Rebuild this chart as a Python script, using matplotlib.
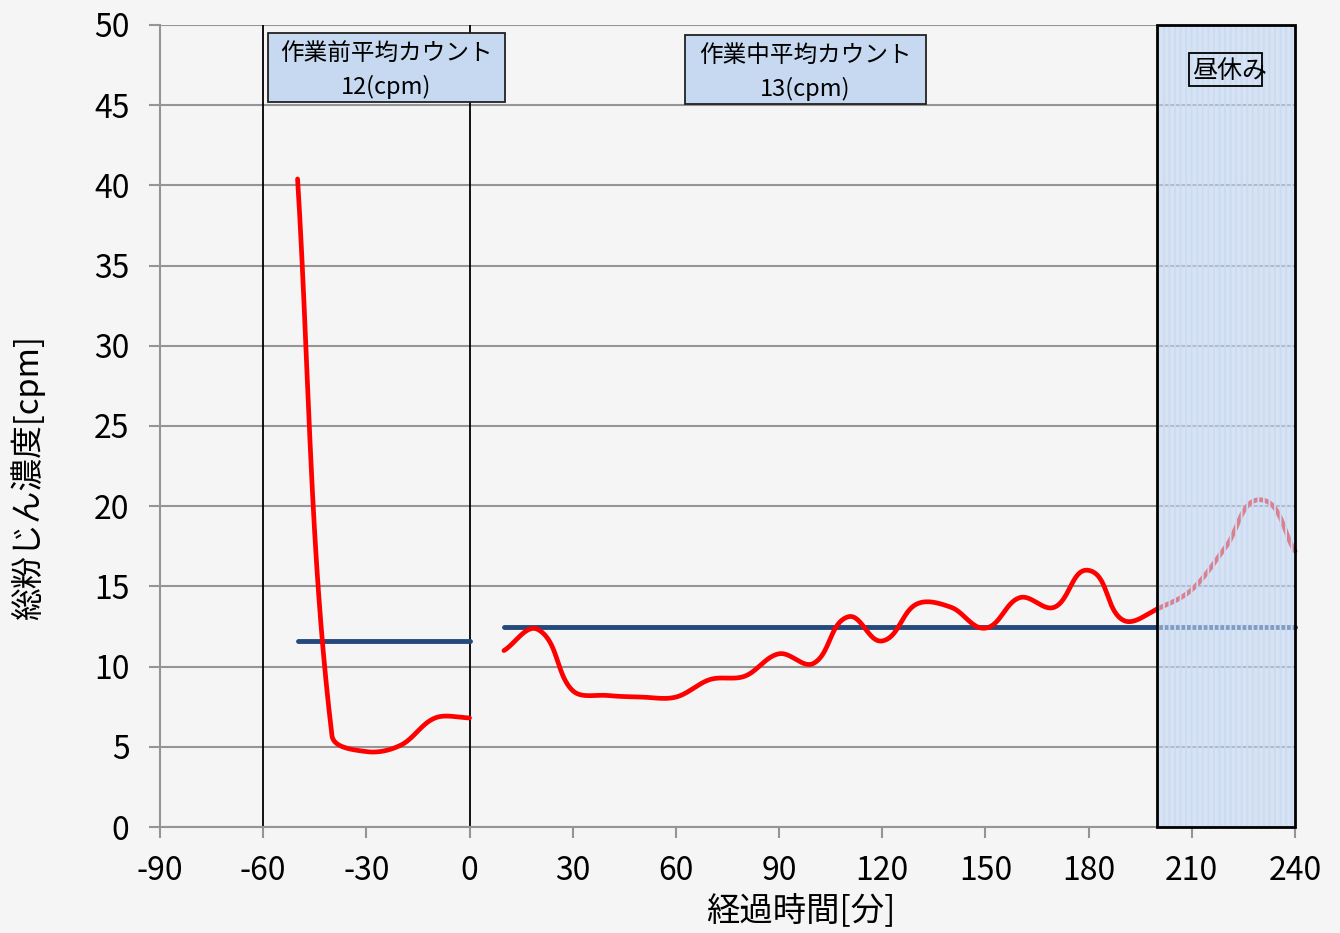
import numpy as np
import matplotlib
matplotlib.use("Agg")
import matplotlib.pyplot as plt
from matplotlib.patches import Rectangle

plt.rcParams['font.family'] = ['Noto Sans CJK JP', 'DejaVu Sans']
plt.rcParams['hatch.linewidth'] = 1.3

# ---- data ----
t_pre = [-50, -40, -30, -20, -10, 0]
c_pre = [40.4, 5.7, 4.7, 5.1, 6.8, 6.8]
t_work = [10, 20, 30, 40, 50, 60, 70, 80, 90, 100, 110, 120, 130, 140,
          150, 160, 170, 180, 190, 200, 210, 220, 230, 240]
c_work = [11.0, 12.3, 8.5, 8.2, 8.1, 8.1, 9.2, 9.4, 10.8, 10.2, 13.1, 11.6,
          13.9, 13.7, 12.4, 14.3, 13.7, 16.0, 12.9, 13.6, 14.8, 17.5, 20.4, 17.2]
mean_pre_span = [-50, 0]
mean_pre = 11.6
mean_work_span = [10, 240]
mean_work = 12.5
box_pre_text = "作業前平均カウント\n12(cpm)"
box_work_text = "作業中平均カウント\n13(cpm)"
lunch_text = "昼休み"
lunch_span = [200, 240]
divider_x = [-60, 0]
xticks = [-90, -60, -30, 0, 30, 60, 90, 120, 150, 180, 210, 240]
yticks = [0, 5, 10, 15, 20, 25, 30, 35, 40, 45, 50]
xlabel = "経過時間[分]"
ylabel = "総粉じん濃度[cpm]"


def smooth(xs, ys, sx=3.44, sy=16.04, n=60):
    P = np.column_stack([np.asarray(xs, float) * sx, np.asarray(ys, float) * sy])
    m = len(P)
    T = []
    for i in range(m):
        if i == 0:
            d = P[1] - P[0]
        elif i == m - 1:
            d = P[-1] - P[-2]
        else:
            d = P[i + 1] - P[i - 1]
        T.append(d / np.linalg.norm(d))
    out = []
    t = np.linspace(0, 1, n)[:, None]
    for i in range(m - 1):
        L = np.linalg.norm(P[i + 1] - P[i])
        p0 = P[i]
        p3 = P[i + 1]
        c1 = p0 + T[i] * L / 3
        c2 = p3 - T[i + 1] * L / 3
        B = ((1 - t) ** 3) * p0 + 3 * ((1 - t) ** 2) * t * c1 + 3 * (1 - t) * t ** 2 * c2 + t ** 3 * p3
        out.append(B if i == 0 else B[1:])
    B = np.vstack(out)
    return B[:, 0] / sx, B[:, 1] / sy


bg = '#f5f5f5'
fig = plt.figure(figsize=(13.4, 9.33), dpi=100, facecolor=bg)
ax = fig.add_axes([160 / 1340, 1 - 827 / 933, (1295 - 160) / 1340, (827 - 25) / 933])
ax.set_facecolor(bg)
ax.set_xlim(-90, 240)
ax.set_ylim(0, 50)
ax.set_xticks(xticks)
ax.set_yticks(yticks)
ax.set_xticklabels([str(v) for v in xticks])
ax.set_yticklabels([str(v) for v in yticks])

grid_c = '#959595'
ax.grid(axis='y', color=grid_c, lw=1.5, zorder=0)
ax.set_axisbelow(True)
for s in ['top', 'right']:
    ax.spines[s].set_visible(False)
for s in ['left', 'bottom']:
    ax.spines[s].set_color(grid_c)
    ax.spines[s].set_linewidth(1.5)
ax.tick_params(axis='both', colors=grid_c, labelcolor='black', labelsize=23,
               length=8, width=1.5)
ax.tick_params(axis='x', pad=12)
ax.tick_params(axis='y', pad=14)

# divider lines
for xv in divider_x:
    ax.plot([xv, xv], [0, 50], color='black', lw=1.3, zorder=2, solid_capstyle='butt')

# mean lines
ax.plot(mean_pre_span, [mean_pre, mean_pre], color='#24497a', lw=3.5,
        solid_capstyle='round', zorder=3)
ax.plot(mean_work_span, [mean_work, mean_work], color='#24497a', lw=3.5,
        solid_capstyle='round', zorder=3, clip_on=False)

# curves
xs, ys = smooth(t_pre, c_pre)
ax.plot(xs, ys, color='#ff0000', lw=3.4, zorder=4, solid_capstyle='round')
xs, ys = smooth(t_work, c_work)
ax.plot(xs, ys, color='#ff0000', lw=3.4, zorder=4, solid_capstyle='round', clip_on=False)

# lunch region
lw_ = lunch_span[1] - lunch_span[0]
ax.add_patch(Rectangle((lunch_span[0], 0), lw_, 50, facecolor=(0.77, 0.84, 0.94, 0.6),
                       edgecolor='none', lw=0, zorder=5))
ax.add_patch(Rectangle((lunch_span[0], 0), lw_, 50, facecolor='none', hatch='|||',
                       edgecolor=(0.79, 0.86, 0.96, 1.0), lw=0, zorder=5.5))
ax.add_patch(Rectangle((lunch_span[0], 0), lw_, 50, facecolor='none',
                       edgecolor='black', lw=2, zorder=6, clip_on=False))

# lunch label
ax.add_patch(Rectangle((209.2, 46.2), 21.2, 2.05, facecolor='none', edgecolor='black',
                       lw=1.3, zorder=7))
ax.text(210.2, 47.12, lunch_text, fontsize=18, ha='left', va='center', zorder=8)

# mean boxes
box_fc = '#c6d9f0'
ax.add_patch(Rectangle((-58.6, 45.2), 68.9, 4.3, facecolor=box_fc, edgecolor='#222222',
                       lw=1.3, zorder=7))
ax.text(-24.15, 47.18, box_pre_text, fontsize=17, ha='center', va='center',
        linespacing=1.5, zorder=8)
ax.add_patch(Rectangle((62.6, 45.07), 70.1, 4.31, facecolor=box_fc, edgecolor='#222222',
                       lw=1.3, zorder=7))
ax.text(97.65, 47.05, box_work_text, fontsize=17, ha='center', va='center',
        linespacing=1.5, zorder=8)

# axis labels
fig.text(801 / 1340, 1 - 911 / 933, xlabel, fontsize=24, ha='center', va='center')
fig.text(28 / 1340, 1 - 478 / 933, ylabel, fontsize=23.5, ha='center', va='center',
         rotation=90)

fig.savefig('out.png', dpi=100, facecolor=bg)
